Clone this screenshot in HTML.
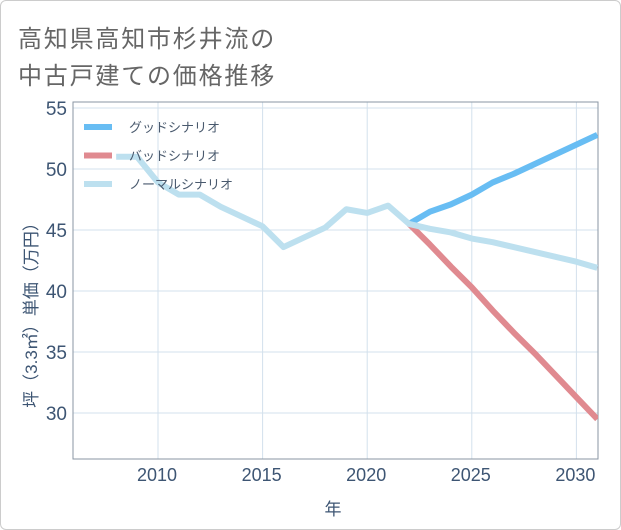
<!DOCTYPE html>
<html><head><meta charset="utf-8"><style>
body{margin:0;background:#fff;}
#card{position:absolute;left:0;top:0;width:619px;height:528px;border:1px solid #ccc;border-radius:6px;background:#fff;overflow:hidden;}
.t{position:absolute;left:17px;font:24px "Liberation Sans","Noto Sans CJK JP",sans-serif;letter-spacing:1.8px;color:#666;}
svg text{font-family:"Liberation Sans","Noto Sans CJK JP",sans-serif;}
</style></head><body>
<div id="card">
<div class="t" style="top:18px">高知県高知市杉井流の</div>
<div class="t" style="top:55px">中古戸建ての価格推移</div>
<svg id="c" width="621" height="530" style="position:absolute;left:0;top:0"></svg>
</div>
<script>
const normalYears=[2008,2009,2010,2011,2012,2013,2014,2015,2016,2017,2018,2019,2020,2021,2022,2023,2024,2025,2026,2027,2028,2029,2030,2031];
const normalVals=[51,51,48.9,47.9,47.9,46.9,46.1,45.3,43.6,44.4,45.2,46.7,46.4,47.0,45.5,45.1,44.8,44.3,44.0,43.6,43.2,42.8,42.4,41.9];
const futureYears=[2022,2023,2024,2025,2026,2027,2028,2029,2030,2031];
const goodVals=[45.5,46.5,47.1,47.9,48.9,49.6,50.4,51.2,52.0,52.8];
const badVals=[45.5,43.8,42.0,40.3,38.4,36.6,34.9,33.1,31.3,29.5];
const xTicks=[2010,2015,2020,2025,2030];
const yTicks=[30,35,40,45,50,55];
const legendLabels=["グッドシナリオ","バッドシナリオ","ノーマルシナリオ"];
const L=72,R=597,T=101,B=458;
const x=v=>157+(v-2010)*20.92;
const y=v=>168-(v-50)*12.2;
const svg=document.getElementById('c');
const NS='http://www.w3.org/2000/svg';
function mk(tag,attrs){const e=document.createElementNS(NS,tag);for(const k in attrs)e.setAttribute(k,attrs[k]);svg.appendChild(e);return e;}
xTicks.forEach(t=>{
 const g=mk('line',{x1:x(t),x2:x(t),y1:T,y2:B,stroke:'#d3e0ec','stroke-width':1});
 
 
 const tx=mk('text',{x:x(t)-1,y:480,'text-anchor':'middle','font-size':18,fill:'#3d5573'});
 tx.textContent=t;
 
 
});
yTicks.forEach(t=>{
 const g=mk('line',{x1:L,x2:R,y1:y(t),y2:y(t),stroke:'#d3e0ec','stroke-width':1});
 
 
 const tx=mk('text',{x:66,y:y(t)+7,'text-anchor':'end','font-size':19,fill:'#3d5573'});
 tx.textContent=t;
 
 
});
const frame=mk('rect',{x:L,y:T,width:R-L,height:B-T,fill:'none',stroke:'#8a96a3','stroke-width':1});


function line(xs,vs,color,name){
 const p=mk('polyline',{points:xs.map((v,i)=>x(v)+','+y(vs[i])).join(' '),fill:'none',stroke:color,'stroke-width':6,'stroke-linejoin':'round'});
 
 
}
const defs=mk('defs',{});
const cp=document.createElementNS(NS,'clipPath');cp.setAttribute('id','clp');
const cr=document.createElementNS(NS,'rect');cr.setAttribute('x',L);cr.setAttribute('y',T);cr.setAttribute('width',R-L);cr.setAttribute('height',B-T);
cp.appendChild(cr);defs.appendChild(cp);
line(futureYears,badVals,'#e08a90','bad-scenario-line');
line(futureYears,goodVals,'#68bdf3','good-scenario-line');
line(normalYears,normalVals,'#bde0ef','normal-scenario-line');
svg.querySelectorAll('polyline').forEach(p=>p.setAttribute('clip-path','url(#clp)'));
const lc=['#68bdf3','#e08a90','#bde0ef'];
legendLabels.forEach((s,i)=>{
 const ly=126+i*28.5;
 const l=mk('line',{x1:83,x2:111,y1:ly,y2:ly,stroke:lc[i],'stroke-width':6});
 
 
 const tx=mk('text',{x:128,y:ly+5,'font-size':13,fill:'#4a5a6e'});
 tx.textContent=s;
 
 
});
const xt=mk('text',{x:332,y:514,'text-anchor':'middle','font-size':17,fill:'#3d5573'});
xt.textContent='年';


const yt=mk('text',{x:0,y:0,'text-anchor':'middle','font-size':17,fill:'#3d5573',transform:'translate(36,310) rotate(-90)'});
yt.textContent='坪（3.3㎡）単価（万円）';


</script>
</body></html>
